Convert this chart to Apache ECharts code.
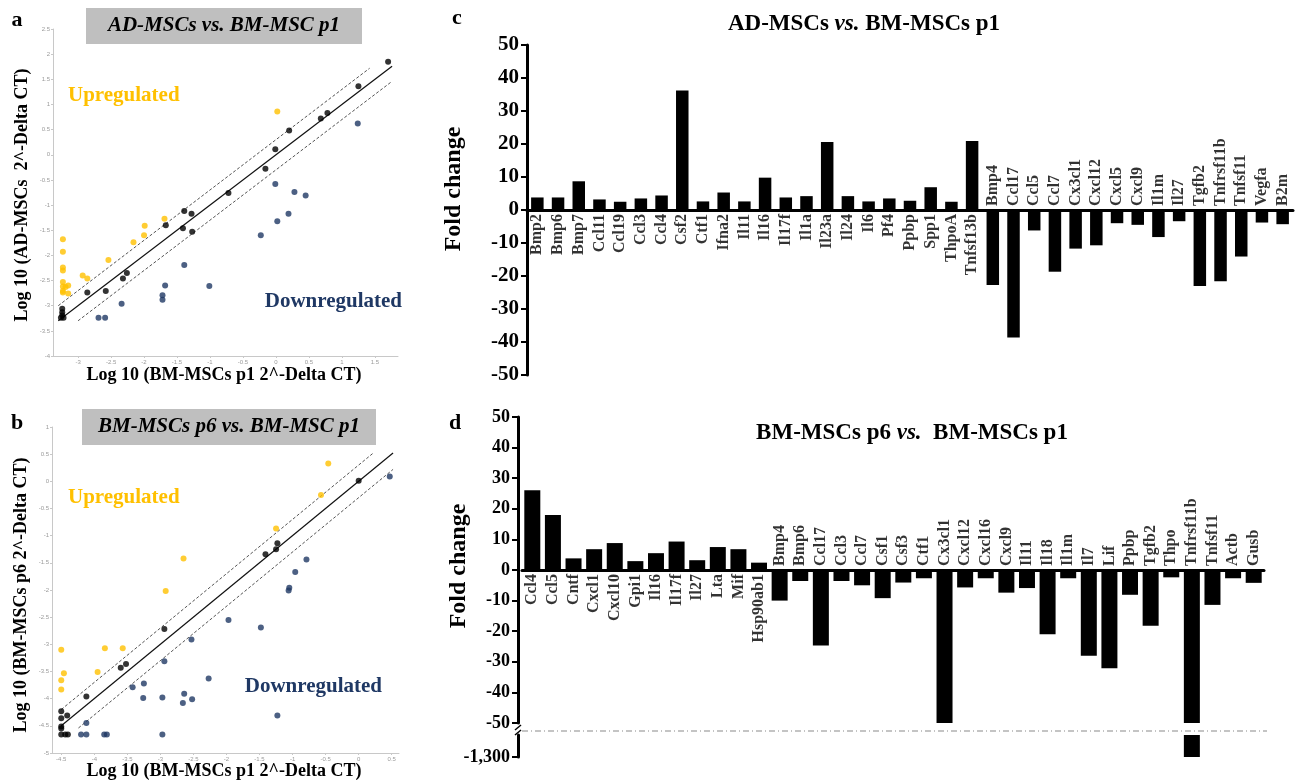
<!DOCTYPE html>
<html>
<head>
<meta charset="utf-8">
<script src="https://cdn.jsdelivr.net/npm/echarts@6/dist/echarts.min.js"></script>
<style>
  html, body { margin: 0; padding: 0; background: #fff; }
  #main { width: 1297px; height: 783px; }
</style>
</head>
<body>
<div id="main"></div>
<script>
// panel a : AD-MSCs vs BM-MSC p1 (log10 values)
var aUp = [[0.02,0.86],[-1.69,-1.27],[-1.99,-1.41],[-2.00,-1.60],[-2.16,-1.74],[-2.54,-2.09],
  [-2.93,-2.40],[-2.86,-2.46],[-3.23,-1.68],[-3.23,-1.93],[-3.23,-2.24],[-3.23,-2.30],
  [-3.23,-2.53],[-3.23,-2.62],[-3.23,-2.71],[-3.19,-2.63],[-3.15,-2.60],[-3.23,-2.74],[-3.15,-2.76]];
var aSame = [[1.70,1.85],[1.25,1.36],[0.78,0.83],[0.68,0.72],[0.20,0.48],[-0.01,0.11],
  [-0.16,-0.28],[-0.72,-0.76],[-1.39,-1.12],[-1.28,-1.17],[-1.67,-1.40],[-1.41,-1.46],
  [-1.27,-1.53],[-2.26,-2.35],[-2.32,-2.46],[-2.58,-2.71],[-2.86,-2.74],[-3.24,-3.06],
  [-3.24,-3.13],[-3.24,-3.19],[-3.22,-3.24],[-3.26,-3.24]];
var aDown = [[1.24,0.62],[-0.01,-0.58],[0.28,-0.74],[0.45,-0.81],[0.19,-1.17],[0.02,-1.32],
  [-0.23,-1.60],[-1.39,-2.19],[-1.68,-2.60],[-1.01,-2.61],[-1.72,-2.79],[-1.72,-2.88],
  [-2.34,-2.96],[-2.69,-3.24],[-2.59,-3.24]];
var aMid = [[-3.3,-3.3],[1.76,1.76]];
var aHi = [[-3.3,-3.0],[1.42,1.72]];
var aLo = [[-3.0,-3.3],[1.76,1.46]];
var aXTicks = [-3,-2.5,-2,-1.5,-1,-0.5,0,0.5,1,1.5];

// panel b : BM-MSCs p6 vs BM-MSC p1
var bUp = [[-0.46,0.33],[-0.57,-0.25],[-1.25,-0.87],[-2.65,-1.42],[-2.92,-2.02],[-4.50,-3.10],
  [-3.84,-3.07],[-3.57,-3.07],[-3.95,-3.51],[-4.46,-3.53],[-4.50,-3.66],[-4.50,-3.83]];
var bSame = [[0,0.01],[-1.23,-1.14],[-1.25,-1.25],[-1.41,-1.34],[-2.94,-2.72],[-3.60,-3.43],
  [-3.52,-3.36],[-4.12,-3.96],[-4.50,-4.23],[-4.50,-4.36],[-4.41,-4.31],[-4.50,-4.51],
  [-4.50,-4.55],[-4.50,-4.66],[-4.44,-4.66],[-4.40,-4.66]];
var bDown = [[0.47,0.09],[-0.79,-1.44],[-0.96,-1.67],[-1.05,-1.96],[-1.06,-2.01],[-1.97,-2.55],
  [-1.48,-2.69],[-2.53,-2.91],[-2.94,-3.31],[-2.27,-3.63],[-3.42,-3.79],[-3.25,-3.72],
  [-3.26,-3.99],[-2.97,-3.98],[-2.64,-3.91],[-2.66,-4.08],[-2.52,-4.01],[-1.23,-4.31],
  [-4.12,-4.45],[-4.20,-4.66],[-4.12,-4.66],[-3.85,-4.66],[-3.81,-4.66],[-2.97,-4.66]];
var bMid = [[-4.5,-4.5],[0.52,0.52]];
var bHi = [[-4.5,-4.2],[0.22,0.52]];
var bLo = [[-4.24,-4.54],[0.52,0.22]];
var bXTicks = [-4.5,-4,-3.5,-3,-2.5,-2,-1.5,-1,-0.5,0,0.5];

// panel c : fold change AD-MSCs vs BM-MSCs p1
var cCats = ['Bmp2','Bmp6','Bmp7','Ccl11','Ccl19','Ccl3','Ccl4','Csf2','Ctf1','Ifna2','Il11','Il16',
  'Il17f','Il1a','Il23a','Il24','Il6','Pf4','Ppbp','Spp1','ThpoA','Tnfsf13b','Bmp4','Ccl17','Ccl5',
  'Ccl7','Cx3cl1','Cxcl12','Cxcl5','Cxcl9','Il1m','Il27','Tgfb2','Tnfrsf11b','Tnfsf11','Vegfa','B2m'];
var cVals = [3.8,3.8,8.7,3.2,2.5,3.5,4.4,36.2,2.6,5.3,2.6,9.8,
  3.8,4.2,20.6,4.2,2.6,3.5,2.8,6.9,2.5,20.9,-22.7,-38.6,-6.2,
  -18.7,-11.7,-10.7,-4.0,-4.5,-8.2,-3.4,-23.0,-21.6,-14.1,-3.8,-4.3];

// panel d : fold change BM-MSCs p6 vs BM-MSCs p1
var dCats = ['Ccl4','Ccl5','Cntf','Cxcl1','Cxcl10','Gpi1','Il16','Il17f','Il27','Lta','Mif','Hsp90ab1',
  'Bmp4','Bmp6','Ccl17','Ccl3','Ccl7','Csf1','Csf3','Ctf1','Cx3cl1','Cxcl12','Cxcl16','Cxcl9','Il11',
  'Il18','Il1m','Il7','Lif','Ppbp','Tgfb2','Thpo','Tnfrsf11b','Tnfsf11','Actb','Gusb'];
var dVals = [26.1,18.0,3.8,6.8,8.8,2.9,5.5,9.3,3.2,7.5,6.8,2.4,
  -10.0,-3.6,-24.7,-3.6,-5.0,-9.2,-4.1,-2.7,-50,-5.7,-2.7,-7.4,-5.9,
  -21.0,-2.7,-28.0,-32.1,-8.1,-18.2,-2.4,-1300,-11.4,-2.7,-4.2];

var SERIF = "'Liberation Serif','Times New Roman',serif";
var YEL = '#FFC000', NAVY = '#1F3864';

var chart = echarts.init(document.getElementById('main'));

function scatterAxis(idx, min, max, ticks) {
  var ax = {
    type: 'value', gridIndex: idx, min: min, max: max,
    axisLine: { show: true, onZero: false, lineStyle: { color: '#c8c8c8', width: 1 } },
    axisTick: { show: true, length: 2, lineStyle: { color: '#c8c8c8' } },
    axisLabel: { fontSize: 6, color: '#9a9a9a', margin: 3 },
    splitLine: { show: false }
  };
  if (ticks) {
    ax.axisLabel.customValues = ticks;
    ax.axisTick.customValues = ticks;
  } else {
    ax.interval = 0.5;
  }
  return ax;
}

function barYAxis(idx, size, offset) {
  return {
    type: 'value', gridIndex: idx, min: -50, max: 50, interval: 10, offset: offset,
    axisLine: { show: true, lineStyle: { color: '#000', width: 3 } },
    axisTick: { show: true, length: 6, lineStyle: { color: '#000', width: 2 } },
    axisLabel: { fontFamily: SERIF, fontWeight: 'bold', fontSize: size, color: '#000', margin: 8 },
    splitLine: { show: false }
  };
}

function catAxis(idx, cats) {
  return {
    type: 'category', gridIndex: idx, data: cats,
    axisLine: { show: true, onZero: true, lineStyle: { color: '#000', width: 3 } },
    axisTick: { show: false },
    axisLabel: { show: false },
    splitLine: { show: false }
  };
}

// gene names: under the zero line for up bars, above it for down bars
function geneLabels(xi, cats, vals, up) {
  var data = [];
  vals.forEach(function (v, i) {
    if ((v > 0) === up) data.push({ name: cats[i], value: [i, 0] });
  });
  return {
    type: 'scatter', xAxisIndex: xi, yAxisIndex: xi, symbolSize: 0, silent: true, data: data,
    label: {
      show: true, formatter: '{b}', position: up ? 'bottom' : 'top', distance: 4, rotate: 90,
      align: up ? 'right' : 'left', verticalAlign: 'middle', color: '#000',
      fontFamily: SERIF, fontWeight: 'bold', fontSize: 16
    }
  };
}

function pts(xi, data, color) {
  return { type: 'scatter', xAxisIndex: xi, yAxisIndex: xi, data: data, symbolSize: 6,
    itemStyle: { color: color }, z: 3 };
}
function diag(xi, data, dashed) {
  return { type: 'line', xAxisIndex: xi, yAxisIndex: xi, data: data, symbol: 'none', silent: true,
    lineStyle: { color: dashed ? '#555' : '#111', width: dashed ? 1 : 1.2, type: dashed ? [3, 2] : 'solid' }, z: 2 };
}

function txt(x, y, text, size, color, opts) {
  opts = opts || {};
  return {
    type: 'text', x: x, y: y, rotation: opts.rot || 0, silent: true,
    style: {
      text: text, fill: color || '#000', fontFamily: SERIF, fontWeight: 'bold',
      fontStyle: opts.italic ? 'italic' : 'normal', fontSize: size,
      align: opts.align || 'center', verticalAlign: 'middle', rich: opts.rich
    }
  };
}

var richTitle = {
  n: { fontFamily: SERIF, fontWeight: 'bold', fontSize: 23, fill: '#000', color: '#000' },
  i: { fontFamily: SERIF, fontWeight: 'bold', fontStyle: 'italic', fontSize: 23, fill: '#000', color: '#000' }
};

var option = {
  backgroundColor: '#fff',
  animation: false,
  grid: [
    { left: 53, top: 29, width: 345, height: 327, outerBoundsMode: 'none' },
    { left: 52, top: 427, width: 347, height: 326, outerBoundsMode: 'none' },
    { left: 527, top: 45, width: 766, height: 330, outerBoundsMode: 'none' },
    { left: 522, top: 417, width: 742, height: 306, outerBoundsMode: 'none' },
    { left: 522, top: 735, width: 742, height: 22, outerBoundsMode: 'none' }
  ],
  xAxis: [
    scatterAxis(0, -3.38, 1.85, aXTicks),
    scatterAxis(1, -4.64, 0.61, bXTicks),
    catAxis(2, cCats),
    catAxis(3, dCats),
    { type: 'category', gridIndex: 4, data: dCats, show: false }
  ],
  yAxis: [
    scatterAxis(0, -4, 2.5, null),
    scatterAxis(1, -5, 1, null),
    barYAxis(2, 21, 0),
    barYAxis(3, 18, 4),
    {
      type: 'value', gridIndex: 4, min: -1300, max: -1250, offset: 4,
      axisLine: { show: true, lineStyle: { color: '#000', width: 3 } },
      axisTick: { show: true, length: 6, customValues: [-1300], lineStyle: { color: '#000', width: 2 } },
      axisLabel: { customValues: [-1300], fontFamily: SERIF, fontWeight: 'bold', fontSize: 18, color: '#000', margin: 8,
        formatter: function (v) { return '-1,300'; } },
      splitLine: { show: false }
    }
  ],
  series: [
    diag(0, aHi, true), diag(0, aLo, true), diag(0, aMid, false),
    pts(0, aUp, YEL), pts(0, aSame, '#000'), pts(0, aDown, NAVY),
    diag(1, bHi, true), diag(1, bLo, true), diag(1, bMid, false),
    pts(1, bUp, YEL), pts(1, bSame, '#000'), pts(1, bDown, NAVY),
    { type: 'bar', xAxisIndex: 2, yAxisIndex: 2, data: cVals, barWidth: 12.5, itemStyle: { color: '#000' } },
    geneLabels(2, cCats, cVals, true), geneLabels(2, cCats, cVals, false),
    { type: 'bar', xAxisIndex: 3, yAxisIndex: 3, data: dVals, barWidth: 16, clip: true, itemStyle: { color: '#000' } },
    geneLabels(3, dCats, dVals, true), geneLabels(3, dCats, dVals, false),
    { type: 'bar', xAxisIndex: 4, yAxisIndex: 4, barWidth: 16, clip: true, itemStyle: { color: '#000' },
      data: dVals.map(function (v) { return v < -50 ? v : '-'; }) }
  ],
  graphic: [
    { type: 'rect', silent: true, shape: { x: 86, y: 8, width: 276, height: 36 }, style: { fill: '#BFBFBF' } },
    { type: 'rect', silent: true, shape: { x: 82, y: 409, width: 294, height: 36 }, style: { fill: '#BFBFBF' } },
    txt(224, 26, 'AD-MSCs vs. BM-MSC p1', 21, '#000', { italic: true }),
    txt(229, 427, 'BM-MSCs p6 vs. BM-MSC p1', 21, '#000', { italic: true }),
    txt(17, 20, 'a', 22), txt(17, 423, 'b', 22), txt(457, 18, 'c', 22), txt(455, 423, 'd', 22),
    txt(68, 96, 'Upregulated', 21, YEL, { align: 'left' }),
    txt(402, 302, 'Downregulated', 21, NAVY, { align: 'right' }),
    txt(68, 498, 'Upregulated', 21, YEL, { align: 'left' }),
    txt(382, 687, 'Downregulated', 21, NAVY, { align: 'right' }),
    txt(22, 195, 'Log 10 (AD-MSCs  2^-Delta CT)', 18, '#000', { rot: Math.PI / 2 }),
    txt(224, 375, 'Log 10 (BM-MSCs p1 2^-Delta CT)', 18),
    txt(21, 595, 'Log 10 (BM-MSCs p6 2^-Delta CT)', 18, '#000', { rot: Math.PI / 2 }),
    txt(224, 771, 'Log 10 (BM-MSCs p1 2^-Delta CT)', 18),
    txt(454, 189, 'Fold change', 24, '#000', { rot: Math.PI / 2 }),
    txt(459, 566, 'Fold change', 24, '#000', { rot: Math.PI / 2 }),
    txt(864, 24, '{n|AD-MSCs }{i|vs.}{n| BM-MSCs p1}', 23, '#000', { rich: richTitle }),
    txt(912, 433, '{n|BM-MSCs p6 }{i|vs.}{n|  BM-MSCs p1}', 23, '#000', { rich: richTitle }),
    // axis break on panel d
    { type: 'line', silent: true, shape: { x1: 522, y1: 731, x2: 1267, y2: 731 },
      style: { stroke: '#8a8a8a', lineWidth: 1.2, lineDash: [6, 3, 1, 3] } },
    { type: 'line', silent: true, shape: { x1: 515, y1: 730, x2: 521, y2: 725 },
      style: { stroke: '#000', lineWidth: 1.5 } },
    { type: 'line', silent: true, shape: { x1: 515, y1: 735, x2: 521, y2: 730 },
      style: { stroke: '#000', lineWidth: 1.5 } }
  ]
};

chart.setOption(option);
</script>
</body>
</html>
